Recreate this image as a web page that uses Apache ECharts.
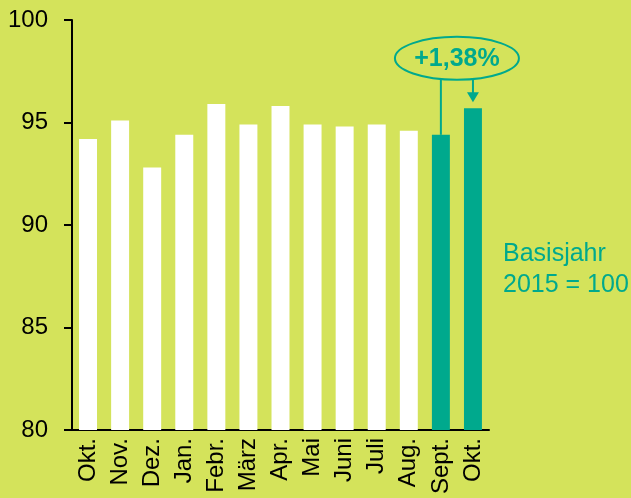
<!DOCTYPE html>
<html>
<head>
<meta charset="utf-8">
<script src="https://cdn.jsdelivr.net/npm/echarts@6/dist/echarts.min.js"></script>
<style>
  html, body { margin: 0; padding: 0; background: #d4e35b; }
  #chart { width: 631px; height: 498px; }
</style>
</head>
<body>
<div id="chart"></div>
<script>
// Monate Okt. bis Okt., Index (Basisjahr 2015 = 100)
var months = ['Okt.', 'Nov.', 'Dez.', 'Jan.', 'Febr.', 'März', 'Apr.', 'Mai', 'Juni', 'Juli', 'Aug.', 'Sept.', 'Okt.'];
var values = [94.2, 95.1, 92.8, 94.4, 95.9, 94.9, 95.8, 94.9, 94.8, 94.9, 94.6, 94.4, 95.7];
var highlight = [11, 12]; // letzte zwei Monate farbig
var yTicks = { min: 80, max: 100, step: 5 };
var changeLabel = '+1,38%';
var baseNote = 'Basisjahr\n2015 = 100';

var teal = '#00a98d';
var font = '"Liberation Sans", Arial, sans-serif';

var chart = echarts.init(document.getElementById('chart'));

var option = {
  backgroundColor: '#d4e35b',
  animation: false,
  grid: { left: 72, right: 142, top: 20, bottom: 68 },
  xAxis: {
    type: 'category',
    data: months,
    axisLine: { lineStyle: { color: '#000', width: 2 } },
    axisTick: { show: false },
    axisLabel: {
      rotate: 90,
      interval: 0,
      margin: 8,
      color: '#000',
      fontSize: 24,
      fontFamily: font
    }
  },
  yAxis: {
    type: 'value',
    min: yTicks.min,
    max: yTicks.max,
    interval: yTicks.step,
    axisLine: { show: true, lineStyle: { color: '#000', width: 2 } },
    axisTick: { show: true, inside: false, length: 8, lineStyle: { color: '#000', width: 2 } },
    splitLine: { show: false },
    axisLabel: {
      margin: 24,
      color: '#000',
      fontSize: 24,
      fontFamily: font
    }
  },
  series: [{
    type: 'bar',
    barWidth: '56%',
    data: values.map(function (v, i) {
      return {
        value: v,
        itemStyle: { color: highlight.indexOf(i) >= 0 ? teal : '#ffffff' }
      };
    })
  }]
};

chart.setOption(option);

// Anmerkung: Ellipse mit Veraenderung, Linie und Pfeil
var iA = highlight[0], iB = highlight[1];
var pA = chart.convertToPixel({ seriesIndex: 0 }, [iA, values[iA]]);
var pB = chart.convertToPixel({ seriesIndex: 0 }, [iB, values[iB]]);
var cx = (pA[0] + pB[0]) / 2;
var cy = chart.convertToPixel({ yAxisIndex: 0 }, 98.13);
var ry = 21.5, rx = 62;
var lineTop = cy + ry;

chart.setOption({
  graphic: [
    {
      type: 'ellipse',
      shape: { cx: cx, cy: cy, rx: rx, ry: ry },
      style: { fill: 'none', stroke: teal, lineWidth: 2 }
    },
    {
      type: 'text',
      x: cx, y: cy + 1,
      style: {
        text: changeLabel,
        fill: teal,
        font: 'bold 25px ' + font,
        align: 'center',
        verticalAlign: 'middle'
      }
    },
    {
      type: 'line',
      shape: { x1: pA[0], y1: lineTop, x2: pA[0], y2: pA[1] },
      style: { stroke: teal, lineWidth: 2 }
    },
    {
      type: 'line',
      shape: { x1: pB[0], y1: lineTop, x2: pB[0], y2: pB[1] - 14 },
      style: { stroke: teal, lineWidth: 2 }
    },
    {
      type: 'polygon',
      shape: { points: [[pB[0] - 6, pB[1] - 16], [pB[0] + 6, pB[1] - 16], [pB[0], pB[1] - 6]] },
      style: { fill: teal }
    },
    {
      type: 'text',
      x: 503, y: 239,
      style: {
        text: baseNote,
        fill: teal,
        font: '25px ' + font,
        lineHeight: 31
      }
    }
  ]
});
</script>
</body>
</html>
